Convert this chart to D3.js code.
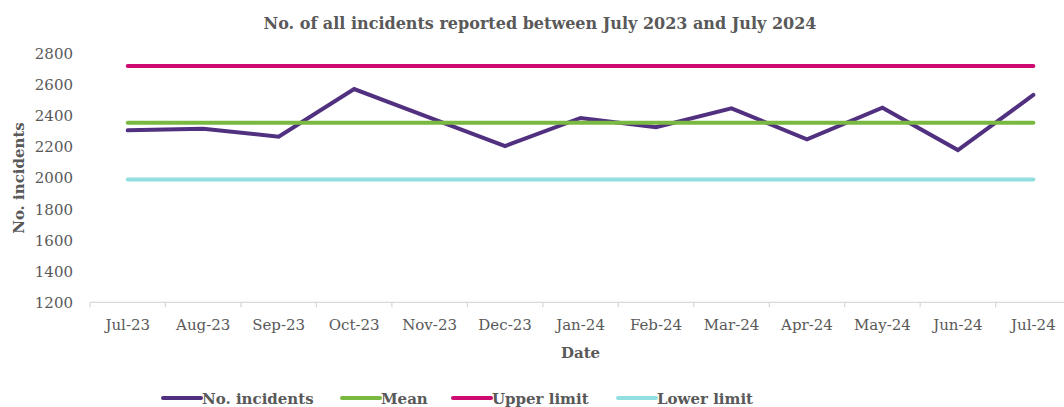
<!DOCTYPE html>
<html>
<head>
<meta charset="utf-8">
<script src="https://cdn.jsdelivr.net/npm/d3@7"></script>
<style>
  html, body { margin: 0; padding: 0; background: #ffffff; }
  svg { display: block; }
  text { font-family: "DejaVu Serif", "Liberation Serif", serif; fill: #595959; }
</style>
</head>
<body>
<svg id="chart" width="1064" height="407"></svg>
<script>
// ---- data ----
const months = ["Jul-23","Aug-23","Sep-23","Oct-23","Nov-23","Dec-23","Jan-24","Feb-24","Mar-24","Apr-24","May-24","Jun-24","Jul-24"];
const incidents = [2308, 2319, 2267, 2574, 2390, 2207, 2388, 2328, 2450, 2250, 2454, 2181, 2536];
const meanValue = 2357;
const upperLimit = 2722;
const lowerLimit = 1992;
const yTicks = [1200, 1400, 1600, 1800, 2000, 2200, 2400, 2600, 2800];
const seriesNames = ["No. incidents", "Mean", "Upper limit", "Lower limit"];
const seriesColors = ["#513080", "#7ab941", "#cc0a72", "#92dfe2"];

// ---- layout ----
const svg = d3.select("#chart");
const left = 90, bandW = 75.47;
const x = d3.scaleBand().domain(months).range([left, left + bandW * months.length]).padding(0);
const y = d3.scaleLinear().domain([1200, 2800]).range([302.3, 54]);

// title
svg.append("text")
  .attr("x", 540).attr("y", 29)
  .attr("text-anchor", "middle")
  .style("font-weight", "bold").style("font-size", "16px")
  .text("No. of all incidents reported between July 2023 and July 2024");

// y axis labels
const yAxis = d3.axisLeft(y).tickValues(yTicks).tickSize(0).tickPadding(0).tickFormat(d3.format("d"));
const gy = svg.append("g").attr("transform", "translate(73,0)").call(yAxis);
gy.select(".domain").remove();
gy.selectAll("text").style("font-size", "15px").style("fill", "#595959")
  .style("font-family", "DejaVu Serif");

// x axis
const xAxisLine = svg.append("g");
xAxisLine.append("line")
  .attr("x1", left).attr("x2", 1064).attr("y1", y(1200)).attr("y2", y(1200))
  .attr("stroke", "#d9d9d9").attr("stroke-width", 1.3);
const tickPos = months.map(m => x(m));
xAxisLine.selectAll("line.tk").data(tickPos).join("line")
  .attr("class", "tk")
  .attr("x1", d => d).attr("x2", d => d)
  .attr("y1", y(1200)).attr("y2", y(1200) + 5)
  .attr("stroke", "#d9d9d9").attr("stroke-width", 1.3);
xAxisLine.selectAll("text.xl").data(months).join("text")
  .attr("class", "xl")
  .attr("x", d => x(d) + x.bandwidth() / 2)
  .attr("y", 330)
  .attr("text-anchor", "middle")
  .style("font-size", "15px")
  .text(d => d);

// axis titles
svg.append("text")
  .attr("x", (x.range()[0] + x.range()[1]) / 2).attr("y", 358)
  .attr("text-anchor", "middle")
  .style("font-weight", "bold").style("font-size", "15px")
  .text("Date");
svg.append("text")
  .attr("transform", "translate(24,178) rotate(-90)")
  .attr("text-anchor", "middle")
  .style("font-weight", "bold").style("font-size", "15px")
  .text("No. incidents");

// lines (series order: incidents first, then mean, upper, lower on top)
const cx = d => x(d) + x.bandwidth() / 2;
const line = d3.line().x(d => cx(d.m)).y(d => y(d.v));
svg.append("path")
  .datum(months.map((m, i) => ({ m, v: incidents[i] })))
  .attr("d", line)
  .attr("fill", "none").attr("stroke", seriesColors[0])
  .attr("stroke-width", 4).attr("stroke-linejoin", "miter").attr("stroke-linecap", "round");
const constSeries = [
  { v: meanValue, color: seriesColors[1] },
  { v: upperLimit, color: seriesColors[2] },
  { v: lowerLimit, color: seriesColors[3] }
];
constSeries.forEach(s => {
  svg.append("path")
    .datum(months.map(m => ({ m, v: s.v })))
    .attr("d", line)
    .attr("fill", "none").attr("stroke", s.color)
    .attr("stroke-width", 4).attr("stroke-linecap", "round");
});

// legend
const legendX = [163, 342, 453, 618];
const lg = svg.append("g");
seriesNames.forEach((n, i) => {
  lg.append("line")
    .attr("x1", legendX[i]).attr("x2", legendX[i] + 38)
    .attr("y1", 398).attr("y2", 398)
    .attr("stroke", seriesColors[i]).attr("stroke-width", 4).attr("stroke-linecap", "round");
  lg.append("text")
    .attr("x", legendX[i] + 39).attr("y", 404)
    .style("font-weight", "bold").style("font-size", "15px")
    .text(n);
});
</script>
</body>
</html>
